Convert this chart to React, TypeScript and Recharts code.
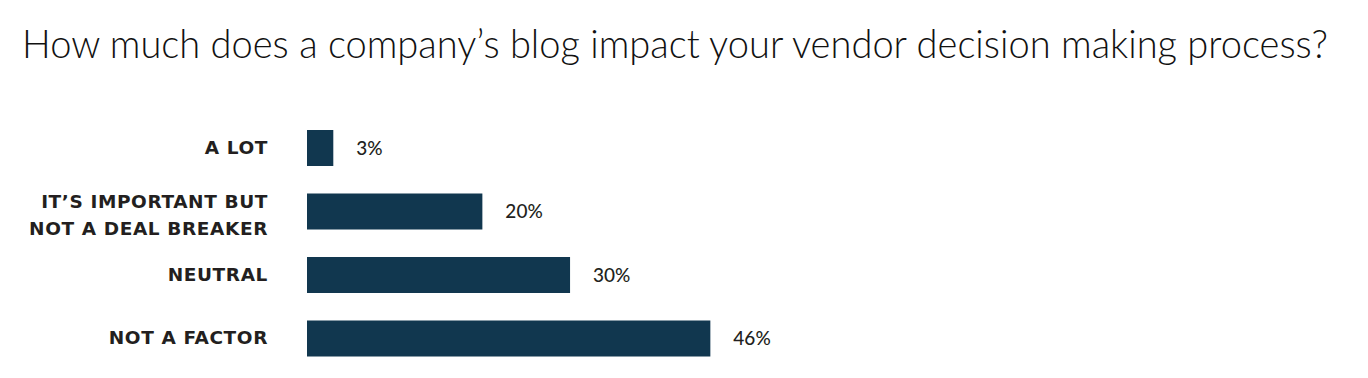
import { BarChart, Bar, XAxis, YAxis, LabelList } from 'recharts'

const title = 'How much does a company’s blog impact your vendor decision making process?'

const answers = ['A LOT', 'IT’S IMPORTANT BUT|NOT A DEAL BREAKER', 'NEUTRAL', 'NOT A FACTOR']
const shares = [3, 20, 30, 46]

const data = answers.map((a, i) => ({ answer: a, share: shares[i] }))

const barColor = '#11374f'
const textColor = '#231f20'

// category labels, "|" splits into two lines
function AnswerTick(props: any) {
  const { x, y, payload } = props
  const lines = String(payload.value).split('|')
  return (
    <text
      x={x}
      y={y}
      textAnchor="end"
      fill={textColor}
      fontFamily="DejaVu Sans"
      fontWeight={700}
      fontSize={18.5}
      letterSpacing={0.6}
    >
      {lines.length === 1 ? (
        <tspan x={x} dy={6}>{lines[0]}</tspan>
      ) : (
        <>
          <tspan x={x} dy={-3.5}>{lines[0]}</tspan>
          <tspan x={x} dy={27}>{lines[1]}</tspan>
        </>
      )}
    </text>
  )
}

export default function App() {
  return (
    <div style={{ position: 'absolute', left: 0, top: 0, width: 1368, height: 378, background: '#fff' }}>
      <svg width={1368} height={90} style={{ position: 'absolute', left: 0, top: 0 }}>
        <text
          x={22}
          y={58}
          fontFamily="Lato"
          fontWeight={300}
          fontSize={39}
          fill="#111"
          textLength={1306}
          lengthAdjust="spacingAndGlyphs"
        >
          {title}
        </text>
      </svg>
      <div style={{ position: 'absolute', left: 0, top: 0 }}>
        <BarChart
          layout="vertical"
          width={1368}
          height={378}
          data={data}
          margin={{ top: 116, right: 0, bottom: 8, left: 0 }}
          barSize={36}
        >
          <XAxis type="number" domain={[0, 121]} hide />
          <YAxis
            type="category"
            dataKey="answer"
            width={307}
            axisLine={false}
            tickLine={false}
            tickSize={0}
            tickMargin={39}
            tick={<AnswerTick />}
            interval={0}
          />
          <Bar dataKey="share" fill={barColor} isAnimationActive={false}>
            <LabelList
              dataKey="share"
              position="right"
              offset={23}
              formatter={(v: any) => `${v}%`}
              fill={textColor}
              fontFamily="Lato"
              fontSize={19}
              fontWeight={500}
            />
          </Bar>
        </BarChart>
      </div>
    </div>
  )
}
